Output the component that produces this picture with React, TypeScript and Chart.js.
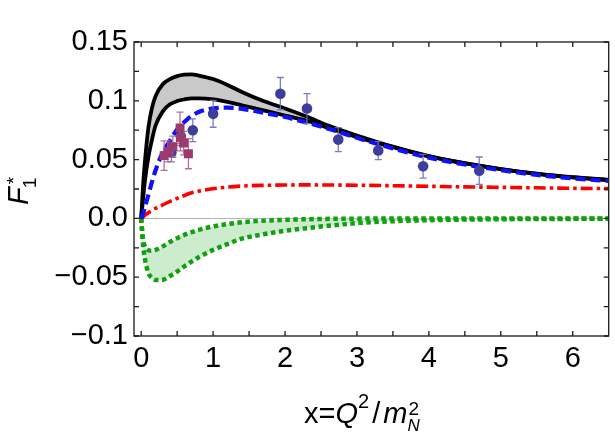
import { useEffect, useRef } from 'react';
import Chart from 'chart.js/auto';
import type { RefObject } from 'react';

// sample points shared by all model curves
const xs = [0, 0.025, 0.05, 0.1, 0.15, 0.2, 0.3, 0.4, 0.5, 0.6, 0.7, 0.8, 1.0, 1.2, 1.4, 1.7, 2.0, 2.3, 2.6, 3.0, 3.5, 4.0, 4.5, 5.0, 5.5, 6.0, 6.5];

const upperBlack = [0, 0.027, 0.047, 0.077, 0.094, 0.104, 0.114, 0.1185, 0.121, 0.1222, 0.1225, 0.1215, 0.1185, 0.1135, 0.1075, 0.0998, 0.0935, 0.0866, 0.079, 0.0705, 0.061, 0.053, 0.047, 0.042, 0.038, 0.035, 0.0328];
const lowerBlack = [0, 0.016, 0.031, 0.052, 0.067, 0.079, 0.091, 0.097, 0.0998, 0.1012, 0.102, 0.102, 0.1012, 0.099, 0.0962, 0.0918, 0.0875, 0.083, 0.077, 0.069, 0.0605, 0.0527, 0.0467, 0.0418, 0.0378, 0.0348, 0.0326];
const blueDashed = [0, 0.004, 0.009, 0.02, 0.031, 0.041, 0.056, 0.066, 0.0757, 0.082, 0.087, 0.0905, 0.0935, 0.0942, 0.0932, 0.0898, 0.0862, 0.0815, 0.0763, 0.0685, 0.0595, 0.0517, 0.0458, 0.041, 0.037, 0.034, 0.0318];
const redDashDot = [0, 0.0012, 0.0025, 0.0048, 0.0068, 0.0086, 0.0115, 0.0145, 0.017, 0.0195, 0.0218, 0.0232, 0.0252, 0.0266, 0.0275, 0.0281, 0.0284, 0.0285, 0.0284, 0.0282, 0.0278, 0.0273, 0.0268, 0.0264, 0.026, 0.0256, 0.0253];
const greenUpper = [0, -0.018, -0.0235, -0.027, -0.0275, -0.0268, -0.0238, -0.02, -0.0168, -0.014, -0.0117, -0.0097, -0.0068, -0.0048, -0.0033, -0.002, -0.0012, -0.0007, -0.0004, -0.0002, -0.0001, -0.0001, 0, 0, 0, 0, 0];
const greenLower = [0, -0.022, -0.034, -0.0463, -0.0506, -0.0524, -0.0522, -0.049, -0.0452, -0.0408, -0.0367, -0.033, -0.0268, -0.0218, -0.0172, -0.0135, -0.0105, -0.0083, -0.0063, -0.004, -0.0024, -0.0015, -0.001, -0.0007, -0.0005, -0.0004, -0.0003];

// measured points
const circleX = [0.42, 0.55, 0.717, 1.0, 1.935, 2.305, 2.74, 3.296, 3.92, 4.7];
const circleY = [0.056, 0.07, 0.075, 0.0889, 0.106, 0.0934, 0.067, 0.0577, 0.0443, 0.0406];
const circleErr = [0.008, 0.008, 0.0097, 0.0114, 0.0138, 0.0127, 0.0102, 0.0078, 0.0101, 0.0116];

const squareX = [0.319, 0.37, 0.44, 0.54, 0.545, 0.59, 0.657];
const squareY = [0.0534, 0.057, 0.061, 0.077, 0.0685, 0.064, 0.055];
const squareErr = [0.0125, 0.009, 0.009, 0.0134, 0.011, 0.01, 0.0128];

const xTickLabels = ['0', '1', '2', '3', '4', '5', '6'];
const yTickLabels = ['\u22120.1', '\u22120.05', '0.0', '0.05', '0.1', '0.15'];
const xTickMarks = [0, 0.5, 1, 1.5, 2, 2.5, 3, 3.5, 4, 4.5, 5, 5.5, 6];
const yTickMarks = [-0.1, -0.075, -0.05, -0.025, 0, 0.025, 0.05, 0.075, 0.1, 0.125, 0.15];

const FONT = '"Liberation Sans", Arial, sans-serif';

const toPts = (x: number[], y: number[]) => x.map((v, i) => ({ x: v, y: y[i] }));

const drawErrors = (chart: any, px: number[], py: number[], err: number[], color: string) => {
  const { ctx, scales } = chart;
  ctx.save();
  ctx.strokeStyle = color;
  ctx.lineWidth = 1.3;
  ctx.beginPath();
  px.forEach((xv, i) => {
    const cx = scales.x.getPixelForValue(xv);
    const top = scales.y.getPixelForValue(py[i] + err[i]);
    const bot = scales.y.getPixelForValue(py[i] - err[i]);
    ctx.moveTo(cx, top);
    ctx.lineTo(cx, bot);
    ctx.moveTo(cx - 3.5, top);
    ctx.lineTo(cx + 3.5, top);
    ctx.moveTo(cx - 3.5, bot);
    ctx.lineTo(cx + 3.5, bot);
  });
  ctx.stroke();
  ctx.restore();
};

const framePlugin = {
  id: 'frame',
  beforeDatasetDraw(chart: any, args: any) {
    if (args.index === 0) drawErrors(chart, squareX, squareY, squareErr, 'rgba(176, 96, 138, 0.9)');
    if (args.index === 1) drawErrors(chart, circleX, circleY, circleErr, 'rgba(110, 110, 185, 0.9)');
  },
  afterDatasetsDraw(chart: any) {
    const { ctx, chartArea: a, scales } = chart;
    ctx.save();
    ctx.strokeStyle = '#1a1a1a';
    ctx.lineWidth = 1.3;
    ctx.strokeRect(a.left, a.top, a.right - a.left, a.bottom - a.top);
    ctx.beginPath();
    xTickMarks.forEach((v) => {
      const p = scales.x.getPixelForValue(v);
      ctx.moveTo(p, a.bottom);
      ctx.lineTo(p, a.bottom - 5);
      ctx.moveTo(p, a.top);
      ctx.lineTo(p, a.top + 5);
    });
    yTickMarks.forEach((v) => {
      const p = scales.y.getPixelForValue(v);
      ctx.moveTo(a.left, p);
      ctx.lineTo(a.left + 5, p);
      ctx.moveTo(a.right, p);
      ctx.lineTo(a.right - 5, p);
    });
    ctx.stroke();
    ctx.restore();
  },
  afterDraw(chart: any) {
    const { ctx, chartArea: a } = chart;
    ctx.save();
    ctx.fillStyle = '#000';
    ctx.textBaseline = 'alphabetic';

    // x axis title: x=Q^2/m_N^2
    const parts: { t: string; f: string; dy: number }[] = [
      { t: 'x=', f: `29px ${FONT}`, dy: 0 },
      { t: 'Q', f: `italic 29px ${FONT}`, dy: 0 },
      { t: '2', f: `20px ${FONT}`, dy: -15 },
      { t: '/', f: `29px ${FONT}`, dy: 0 },
      { t: 'm', f: `italic 29px ${FONT}`, dy: 0 },
    ];
    let w = 0;
    parts.forEach((p) => {
      ctx.font = p.f;
      w += ctx.measureText(p.t).width + (p.t === '/' ? 6 : 0);
    });
    ctx.font = `20px ${FONT}`;
    w += ctx.measureText('2').width;
    let cx = (a.left + a.right) / 2 - 10 - w / 2;
    const base = 423;
    parts.forEach((p) => {
      ctx.font = p.f;
      if (p.t === '/') cx += 3;
      ctx.fillText(p.t, cx, base + p.dy);
      cx += ctx.measureText(p.t).width;
      if (p.t === '/') cx += 3;
    });
    ctx.font = `19px ${FONT}`;
    ctx.fillText('2', cx + 1, base - 8);
    ctx.font = `italic 17px ${FONT}`;
    ctx.fillText('N', cx, base + 8);

    // y axis title: F_1^*
    ctx.translate(28, 205);
    ctx.rotate(-Math.PI / 2);
    ctx.font = `italic 29px ${FONT}`;
    ctx.fillText('F', 0, 0);
    const fw = ctx.measureText('F').width;
    ctx.font = `19px ${FONT}`;
    ctx.fillText('1', fw - 1, 8);
    ctx.fillText('*', fw + 3, -8);
    ctx.restore();
  },
};

const F1StarChart = () => {
  const canvasRef: RefObject<HTMLCanvasElement | null> = useRef(null);

  useEffect(() => {
    if (!canvasRef.current) {
      return;
    }

    const curve = (data: number[], color: string, width: number, dash: number[], order: number, extra: any = {}) => ({
      data: toPts(xs, data),
      borderColor: color,
      borderWidth: width,
      borderDash: dash,
      pointRadius: 0,
      cubicInterpolationMode: 'monotone',
      fill: false,
      order,
      ...extra,
    });

    const chart = new Chart(canvasRef.current, {
      type: 'line',
      data: {
        datasets: [
          {
            data: toPts(squareX, squareY),
            showLine: false,
            pointStyle: 'rect',
            pointRadius: 6.3,
            pointBorderWidth: 0,
            pointBackgroundColor: '#9a3a6e',
            order: 0,
          },
          {
            data: toPts(circleX, circleY),
            showLine: false,
            pointRadius: 5.3,
            pointBorderWidth: 0,
            pointBackgroundColor: '#3d3d9b',
            order: 1,
          },
          curve(blueDashed, '#1010ff', 4.2, [10, 5], 2),
          curve(upperBlack, '#000', 3.8, [], 3, { fill: '+1', backgroundColor: '#c9c9c9' }),
          curve(lowerBlack, '#000', 3.8, [], 4),
          curve(redDashDot, '#ff0000', 3.6, [12, 4, 3.5, 4], 5),
          curve(greenUpper, '#10a010', 4.5, [4.5, 3.5], 6, { fill: '+1', backgroundColor: '#cdeccd' }),
          curve(greenLower, '#10a010', 4.5, [4.5, 3.5], 7),
        ] as any,
      },
      options: {
        animation: false,
        responsive: false,
        layout: { padding: { top: 42, right: 6, bottom: 0, left: 0 } },
        plugins: {
          legend: { display: false },
          tooltip: { enabled: false },
          filler: { drawTime: 'beforeDatasetsDraw' },
        },
        scales: {
          x: {
            type: 'linear',
            min: -0.1,
            max: 6.5,
            grid: { display: false, drawTicks: false },
            border: { display: false },
            ticks: {
              stepSize: 1,
              includeBounds: false,
              padding: 6,
              color: '#000',
              font: { family: FONT, size: 29 },
              maxRotation: 0,
              callback: (_v: any, i: number) => xTickLabels[i],
            },
            afterFit: (s: any) => {
              s.height = 96;
            },
          },
          y: {
            type: 'linear',
            min: -0.1,
            max: 0.15,
            grid: {
              drawTicks: false,
              color: (c: any) => (c.tick && c.tick.value === 0 ? '#b4b4b4' : 'rgba(0,0,0,0)'),
              lineWidth: 1,
            },
            border: { display: false },
            ticks: {
              stepSize: 0.05,
              includeBounds: false,
              padding: 6,
              color: '#000',
              font: { family: FONT, size: 29 },
              callback: (_v: any, i: number) => yTickLabels[i],
            },
            afterFit: (s: any) => {
              s.width = 134;
            },
          },
        },
      } as any,
      plugins: [framePlugin],
    });

    return () => {
      chart.destroy();
    };
  }, []);

  return <canvas ref={canvasRef} width={615} height={432} />;
};

const App = () => (
  <div style={{ position: 'absolute', left: 0, top: 0, width: 615, height: 432, background: '#fff' }}>
    <F1StarChart />
  </div>
);

export default App;
